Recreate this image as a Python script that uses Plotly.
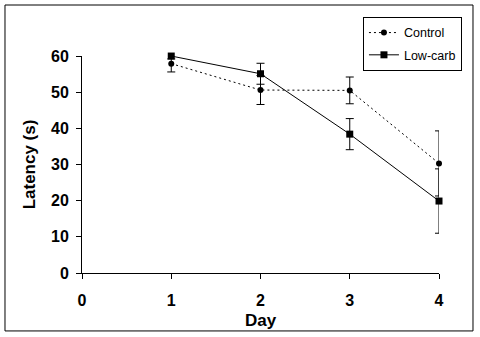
import plotly.graph_objects as go

days = [1, 2, 3, 4]
control = [57.9, 50.6, 50.5, 30.3]
control_err = [2.3, 4.0, 3.7, 9.0]
lowcarb = [60.0, 55.1, 38.4, 19.9]
lowcarb_err = [0.8, 2.9, 4.3, 8.9]
x_ticks = [0, 1, 2, 3, 4]
y_ticks = [0, 10, 20, 30, 40, 50, 60]

FONT = "Liberation Sans, Arial, sans-serif"

fig = go.Figure()
fig.add_trace(go.Scatter(
    x=days, y=control, name="Control", mode="lines+markers",
    line=dict(color="black", width=1, dash="2px,3px"),
    marker=dict(symbol="circle", size=6, color="black"),
    error_y=dict(type="data", array=control_err, visible=True, color="black", thickness=1, width=4),
    legendgroup="a", cliponaxis=False,
))
fig.add_trace(go.Scatter(
    x=days, y=lowcarb, name="Low-carb", mode="lines+markers",
    line=dict(color="black", width=1),
    marker=dict(symbol="square", size=7, color="black"),
    error_y=dict(type="data", array=lowcarb_err, visible=True, color="black", thickness=1, width=4),
    legendgroup="b", cliponaxis=False,
))

fig.update_layout(
    width=480, height=337,
    margin=dict(l=82, r=41, t=56, b=64, autoexpand=False),
    paper_bgcolor="white", plot_bgcolor="white",
    font=dict(family=FONT, color="black"),
    showlegend=True,
    legend=dict(
        x=0.787, y=1.18, xanchor="left", yanchor="top",
        bordercolor="black", borderwidth=1, bgcolor="white",
        font=dict(family=FONT, size=12.5, color="black"),
        traceorder="grouped", tracegroupgap=3,
    ),
    xaxis=dict(
        range=[0, 4], tickvals=x_ticks, ticktext=[str(v) for v in x_ticks],
        showgrid=False, zeroline=False, showline=True, linecolor="black", linewidth=1,
        ticks="outside", ticklen=5, tickcolor="black", tickwidth=1,
        tickfont=dict(family=FONT, size=16, color="black", weight="bold"),
        ticklabelstandoff=8,
        automargin=False,
    ),
    yaxis=dict(
        range=[0, 60.01], tickvals=y_ticks, ticktext=[str(v) for v in y_ticks],
        showgrid=False, zeroline=False, showline=True, linecolor="black", linewidth=1,
        ticks="outside", ticklen=5, tickcolor="black", tickwidth=1,
        tickfont=dict(family=FONT, size=16, color="black", weight="bold"),
        ticklabelstandoff=4,
        title=dict(text="<b>Latency (s)</b>", font=dict(family=FONT, size=17, color="black"), standoff=11),
        automargin=False,
    ),
    annotations=[dict(
        text="<b>Day</b>", xref="paper", yref="paper", x=0.5, y=-0.217,
        xanchor="center", yanchor="middle", showarrow=False,
        font=dict(family=FONT, size=17, color="black"),
    )],
    shapes=[dict(
        type="rect", xref="paper", yref="paper",
        x0=-0.2157, x1=1.0952, y0=-0.267, y1=1.235,
        line=dict(color="black", width=1), fillcolor="rgba(0,0,0,0)", layer="below",
    )],
)

fig.write_html("out.html")
